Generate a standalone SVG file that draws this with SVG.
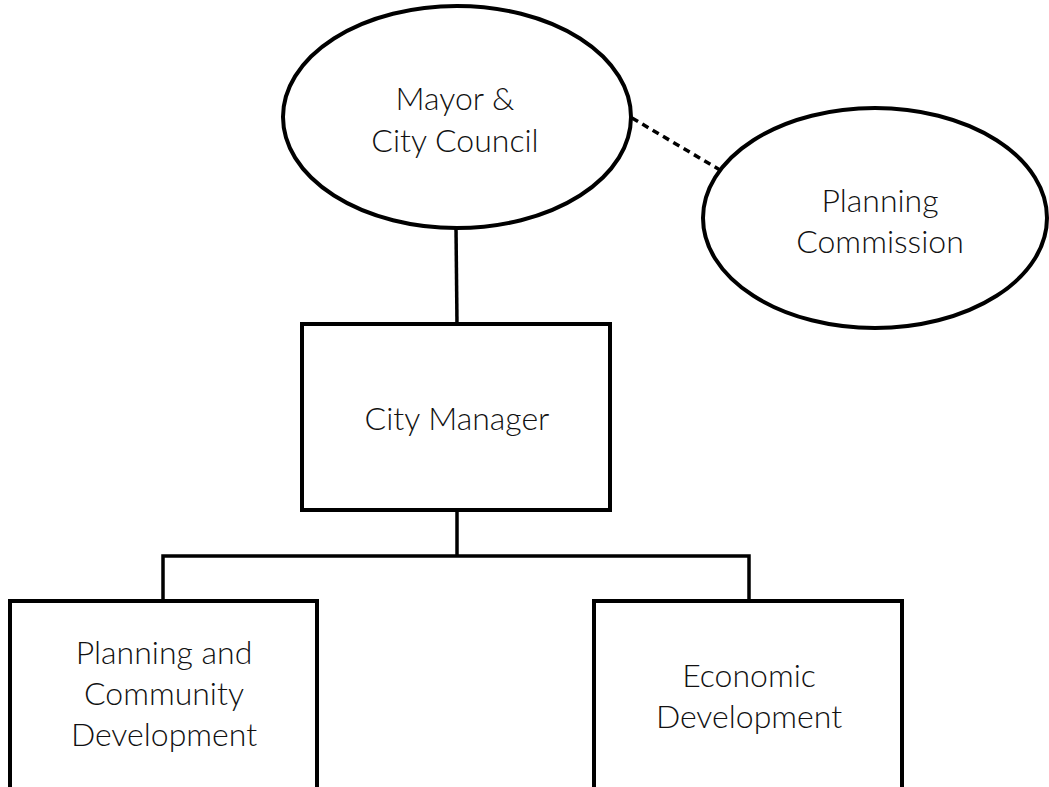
<svg xmlns="http://www.w3.org/2000/svg" width="1049" height="787" viewBox="0 0 1049 787">
<style>
.node{fill:#fff;stroke:#000;stroke-width:4}
.conn{fill:none;stroke:#000;stroke-width:3.5}
.dash{stroke-dasharray:7 5;stroke-width:3.5}
text{font-family:Lato,"Noto Sans","Liberation Sans",sans-serif;font-weight:300;font-size:32px;fill:#111;text-anchor:middle}
</style>
<rect width="1049" height="787" fill="#fff"/>
<g id="connectors">
<line class="conn" x1="456" y1="228" x2="457" y2="324"/>
<line class="conn dash" x1="632" y1="118" x2="720" y2="170"/>
<polyline class="conn" points="457,510 457,556"/>
<polyline class="conn" points="163,601 163,556 749,556 749,601"/>
</g>
<g id="mayor">
<ellipse class="node" cx="457" cy="117" rx="174" ry="111"/>
<text x="455" y="110">Mayor &amp;</text>
<text x="455" y="152">City Council</text>
</g>
<g id="planning-commission">
<ellipse class="node" cx="875" cy="218" rx="172" ry="110"/>
<text x="880" y="212">Planning</text>
<text x="880" y="253">Commission</text>
</g>
<g id="city-manager">
<rect class="node" x="302" y="324" width="308" height="186"/>
<text x="457" y="430">City Manager</text>
</g>
<g id="planning-community">
<rect class="node" x="10" y="601" width="307" height="200"/>
<text x="164" y="664">Planning and</text>
<text x="164" y="705">Community</text>
<text x="164" y="746">Development</text>
</g>
<g id="economic">
<rect class="node" x="594" y="601" width="308" height="200"/>
<text x="749" y="687">Economic</text>
<text x="749" y="728">Development</text>
</g>
</svg>
